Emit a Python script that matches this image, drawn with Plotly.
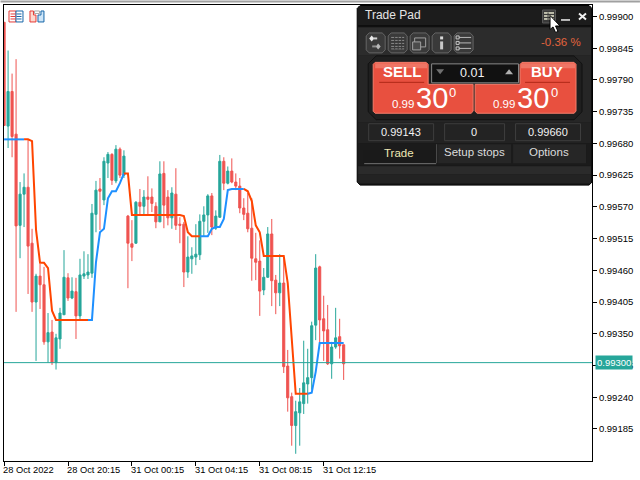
import plotly.graph_objects as go

# Prices are in points (1 point = 0.00001)
POINT = 1e-5
opens = [99890,99710,99770,99696,99538,99592,99604,99507,99405,99450,99435,99336,99353,99300,99341,99383,
         99447,99412,99423,99381,99450,99452,99455,99557,99601,99582,99646,99661,99615,99670,99625,99554,
         99506,99507,99578,99571,99587,99587,99571,99544,99628,99587,99551,99592,99540,99540,99457,99480,
         99483,99487,99545,99556,99589,99533,99552,99649,99611,99632,99613,99606,99568,99559,99533,99480,
         99476,99426,99448,99523,99443,99421,99438,99294,99241,99191,99213,99229,99263,99274,99365,99466,
         99376,99357,99298,99327,99345,99331]
closes = [99711,99770,99692,99537,99592,99604,99502,99405,99450,99435,99336,99352,99300,99343,99386,99448,
          99412,99424,99381,99452,99454,99457,99559,99599,99597,99649,99661,99616,99670,99625,99658,99507,
          99500,99578,99571,99587,99583,99576,99544,99627,99573,99551,99594,99538,99538,99457,99483,99485,
          99488,99545,99556,99589,99535,99554,99649,99611,99632,99613,99606,99568,99557,99532,99481,99474,
          99424,99448,99523,99442,99421,99438,99293,99239,99191,99215,99232,99265,99274,99364,99464,99374,
          99355,99298,99327,99343,99329,99298]
highs = [99890,99841,99801,99826,99613,99628,99687,99532,99454,99471,99466,99386,99374,99350,99395,99495,
         99455,99448,99447,99480,99493,99488,99575,99615,99620,99656,99665,99663,99677,99673,99668,99556,
         99547,99580,99601,99599,99623,99602,99578,99649,99649,99599,99604,99637,99552,99544,99519,99500,
         99540,99557,99571,99592,99594,99564,99660,99656,99640,99654,99628,99620,99585,99594,99585,99525,
         99512,99464,99535,99549,99452,99488,99483,99322,99248,99234,99256,99338,99324,99371,99488,99468,
         99416,99400,99336,99395,99376,99331]
lows = [99711,99672,99656,99388,99481,99535,99419,99388,99303,99393,99331,99300,99296,99288,99324,99383,
        99407,99410,99341,99374,99445,99445,99447,99526,99530,99573,99620,99608,99611,99620,99620,99429,
        99476,99506,99556,99556,99556,99561,99533,99544,99533,99538,99532,99530,99507,99431,99447,99454,
        99469,99478,99518,99525,99521,99530,99551,99599,99609,99611,99599,99559,99547,99526,99442,99443,
        99381,99417,99447,99398,99384,99398,99282,99215,99156,99142,99156,99211,99229,99253,99339,99334,
        99303,99296,99272,99324,99307,99270]
trend = [99687,99687,99687,99687,99687,99687,99687,99684,99530,99473,99473,99464,99390,99374,99374,99374,
         99374,99374,99374,99374,99374,99374,99374,99474,99526,99532,99585,99597,99597,99611,99628,99628,
         99556,99556,99556,99556,99556,99556,99556,99556,99556,99556,99556,99556,99556,99554,99526,99519,
         99519,99519,99519,99519,99532,99535,99535,99549,99599,99601,99601,99601,99601,99597,99580,99538,
         99526,99485,99485,99485,99485,99485,99485,99438,99339,99246,99246,99246,99246,99248,99284,99334,
         99334,99334,99334,99334,99334,99334]
trend_segments = [("#1E90FF",0,5),("#FF4500",5,21),("#1E90FF",21,30),("#FF4500",30,49),
                  ("#1E90FF",49,60),("#FF4500",60,76),("#1E90FF",76,85)]
y_ticks = [0.99900,0.99845,0.99790,0.99735,0.99680,0.99625,0.99570,0.99515,0.99460,0.99405,0.99350,0.99295,0.99240,0.99185]
x_ticks = [0,16,32,48,64,80]
x_labels = ["28 Oct 2022","28 Oct 20:15","31 Oct 00:15","31 Oct 04:15","31 Oct 08:15","31 Oct 12:15"]
last_price = 0.99300

W, H = 640, 480
L, R, T, B = 3.5, 592.0, 4.5, 461.5
FONT = "Liberation Sans"
BULL, BEAR = "#26A69A", "#EF5350"

def X(p): return (p - L) / (R - L)
def Y(p): return (B - p) / (B - T)

shapes, notes = [], []

def rect(x0, y0, x1, y1, fill="rgba(0,0,0,0)", line=None, lw=1):
    shapes.append(dict(type="rect", xref="paper", yref="paper", x0=X(x0), x1=X(x1), y0=Y(y0), y1=Y(y1),
                       fillcolor=fill, line=dict(color=line or "rgba(0,0,0,0)", width=lw if line else 0), layer="above"))

def poly(points, fill="rgba(0,0,0,0)", line=None, lw=1):
    d = "M" + " L".join(f"{X(a):.5f},{Y(b):.5f}" for a, b in points) + " Z"
    shapes.append(dict(type="path", xref="paper", yref="paper", path=d, fillcolor=fill,
                       line=dict(color=line or "rgba(0,0,0,0)", width=lw if line else 0), layer="above"))

def rrect(x0, y0, x1, y1, r, fill, line=None, lw=1):
    c = [(x0+r,y0),(x1-r,y0),(x1,y0+r),(x1,y1-r),(x1-r,y1),(x0+r,y1),(x0,y1-r),(x0,y0+r)]
    poly(c, fill, line, lw)

def seg(x0, y0, x1, y1, color, lw=1):
    shapes.append(dict(type="line", xref="paper", yref="paper", x0=X(x0), x1=X(x1), y0=Y(y0), y1=Y(y1),
                       line=dict(color=color, width=lw), layer="above"))

def text(x, y, s, size, color, anchor="center", bold=False, font=FONT):
    notes.append(dict(xref="paper", yref="paper", x=X(x), y=Y(y), text=f"<b>{s}</b>" if bold else s, showarrow=False,
                      xanchor=anchor, yanchor="middle", font=dict(family=font, size=size, color=color),
                      borderpad=0, borderwidth=0))

fig = go.Figure()
fig.add_trace(go.Candlestick(
    x=list(range(len(opens))),
    open=[v*POINT for v in opens], high=[v*POINT for v in highs],
    low=[v*POINT for v in lows], close=[v*POINT for v in closes],
    increasing=dict(line=dict(color=BULL, width=1), fillcolor=BULL),
    decreasing=dict(line=dict(color=BEAR, width=1), fillcolor=BEAR),
    whiskerwidth=0, showlegend=False))
for color, a, b in trend_segments:
    fig.add_trace(go.Scatter(x=list(range(a, b+1)), y=[v*POINT for v in trend[a:b+1]], mode="lines",
                             line=dict(color=color, width=2), showlegend=False))

# window edge
shapes.append(dict(type="rect", xref="paper", yref="paper", x0=X(0), x1=X(640), y0=Y(0), y1=Y(2),
                   fillcolor="#A0A0A0", line=dict(width=0), layer="above"))
# price line
shapes.append(dict(type="line", xref="paper", yref="y", x0=0, x1=1, y0=last_price, y1=last_price,
                   line=dict(color=BULL, width=1), layer="above"))

# top-left icons
rect(8.5,10.5,15.5,21.5,"#FFFFFF","#E53935",1)
rect(15.5,10.5,22.5,21.5,"#FFFFFF","#1565A8",1)
for yy in (13.5,16,18.5):
    seg(10,yy,15,yy,"#E53935",1); seg(16,yy,21,yy,"#1565A8",1)
poly([(29.5,10.5),(33,10.5),(33,14.5),(35.5,14.5),(35.5,21.5),(29.5,21.5)],"#FCD9D0","#E53935",1)
poly([(40.5,14.5),(40.5,10.5),(43.5,10.5),(43.5,21.5),(37.5,21.5),(37.5,14.5)],"#CFE6F8","#1565A8",1)
rect(34,10.5,39,13,"#FFFFFF","#A8A8A8",1)

# Trade pad panel
rrect(357,5,592,185,3,"#1A1A1A","#000000",1)
rect(358,6,591,25,"#1C1C1C")
seg(358,25.5,591,25.5,"#050505",1)
rect(358,27,591,55,"#2C2C2C")
rect(358,55,591,122,"#262626")
rect(358,122,591,143,"#222222")
rect(358,143,591,165,"#1B1B1B")
rect(358,166,591,174,"#2B2B2B")
rect(358,174,591,183,"#232323")
text(365,15,"Trade Pad",12,"#E4E4E4","left")
# title bar buttons
rect(542.5,9.5,555.5,22.5,"#3A3A3A","#5A5A5A",1)
for yy in (12.5,15.5,18.5):
    seg(544,yy,554,yy,"#E8E8D0",1.5)
seg(548,12,548,20,"#3A3A3A",1)
seg(561,19.5,570,19.5,"#EDEDED",1.5)
seg(579,13,586,19,"#F2F2F2",2); seg(586,13,579,19,"#F2F2F2",2)
# cursor
poly([(550,15),(550,29),(553,26.5),(555.5,32),(558,31),(555.5,25.5),(560,25.5)],"#FFFFFF","#000000",1)

# toolbar buttons
for a, b in [(366,385),(388,407),(410,429),(432,451),(454,473)]:
    rrect(a,32.5,b,52.5,3,"#3A3A3A","#666666",1)
poly([(369,38),(371.5,35),(374,38),(371.5,41)],"#E8E8E8"); poly([(375.5,46),(378,43),(380.5,46),(378,49)],"#B8B8B8")
rect(373,37,377,39,"#D0D0D0"); rect(372,45,376,47,"#909090")
for yy in (37,40,43,46,48.5):
    seg(391,yy,404,yy,"#8A8A8A",1)
for xx in (394.5,398,401.5):
    seg(xx,36,xx,49,"#3A3A3A",1)
rect(414.5,37.5,425.5,46.5,"#3A3A3A","#A0A0A0",1)
rect(412.5,41.5,420.5,49.5,"#4A4A4A","#A0A0A0",1)
rect(440,36,443,39,"#D8D8D8"); rect(440,41,443,49,"#C8C8C8")
for yy in (37,42.5,48):
    seg(457,yy,471,yy,"#B8B8B8",1)
    rect(456,yy-1.5,459,yy+1.5,"#3A3A3A","#C8C8C8",1)
text(581,42,"-0.36 %",11.5,"#E2643E","right")

# trade group
rrect(368,55.5,582,119.5,8,"#1F1F1F","#111111",1)
SELLC, HILITE = "#E8503F", "#F3806F"
sell_pts = [(375,62),(426,62),(428,64),(428,84),(473,84),(473,111),(471,113),(375,113),(373,111),(373,64)]
buy_pts = [(520,64),(522,62),(574,62),(576,64),(576,111),(574,113),(477,113),(475,111),(475,84),(520,84)]
poly(sell_pts,SELLC,"#F47E6C",1)
poly(buy_pts,SELLC,"#F47E6C",1)
rect(375,63,427,68,"#EF7565"); rect(521,63,575,68,"#EF7565")
seg(379,82,424,82,"#B02818",1); seg(525,82,570,82,"#B02818",1)
rect(431.5,63.5,518.5,82.5,"#111111","#8A8A8A",1)
poly([(436,69),(444,69),(440,74)],"#707070"); poly([(505,74),(513,74),(509,69)],"#B0B0B0")
text(472,72.5,"0.01",12.5,"#F2F2F2")
text(402,71.5,"SELL",15,"#FFFFFF",bold=True)
text(547,71.5,"BUY",15,"#FFFFFF",bold=True)
for xa, xb, xc in [(403,432,452),(504,533,554)]:
    text(xa,104,"0.99",11.5,"#FFFFFF")
    text(xb,98,"30",29,"#FFFFFF")
    text(xc,92.5,"0",13,"#FFFFFF")
for a, b, s in [(368,433,"0.99143"),(444,504,"0"),(515,580,"0.99660")]:
    rect(a+.5,123.5,b+.5,140.5,"#232323","#3E3E3E",1)
    text((a+b)/2,132,s,11,"#F2F2F2")
# tabs
rect(363.5,150.5,436,163.5,"#1A1A1A")
seg(364,163.5,436,163.5,"#707070",1)
seg(436.5,144,436.5,163,"#505050",1)
rect(438,144,511,163,"#262626"); rect(513,144,586,163,"#262626")
text(399,153,"Trade",11.5,"#EFE8B4")
text(474,152,"Setup stops",11.5,"#DCDCDC")
text(549,152,"Options",11.5,"#DCDCDC")

# x labels start at their tick, last price tag
for v, s in zip(x_ticks, x_labels):
    notes.append(dict(xref="x", yref="paper", x=v, y=Y(470.5), text=s, showarrow=False, xanchor="left", yanchor="middle",
                      xshift=-3, font=dict(family=FONT, size=9.3, color="#000000")))
notes.append(dict(xref="paper", yref="y", x=X(595), y=last_price, text="0.99300", showarrow=False, xanchor="left",
                  yanchor="middle", yshift=0, bgcolor=BULL, borderpad=1, font=dict(family=FONT, size=9.5, color="#FFFFFF")))

fig.update_layout(
    width=W, height=H, autosize=False, paper_bgcolor="#FFFFFF", plot_bgcolor="#FFFFFF",
    margin=dict(l=L, r=W-R, t=T, b=H-B, pad=0), boxgap=0.25, hovermode=False, showlegend=False,
    shapes=shapes, annotations=notes,
    xaxis=dict(range=[-0.02, 147.16], rangeslider=dict(visible=False), showgrid=False, zeroline=False,
               showline=True, mirror=True, linecolor="#000000", linewidth=1, ticks="outside", ticklen=4,
               tickcolor="#000000", tickwidth=1, tickvals=x_ticks, showticklabels=False, automargin=False),
    yaxis=dict(side="right", showgrid=False, zeroline=False,
               showline=True, mirror=True, linecolor="#000000", linewidth=1, ticks="outside", ticklen=4,
               tickcolor="#000000", tickwidth=1, tickvals=y_ticks, tickformat=".5f", automargin=False,
               tickfont=dict(family=FONT, size=9.5, color="#000000")),
)
fig.update_yaxes(range=[0.991295, 0.999199])
fig.write_html("out.html", config=dict(displayModeBar=False, staticPlot=True),
               post_script="document.body.style.margin='0';document.body.style.overflow='hidden';")
